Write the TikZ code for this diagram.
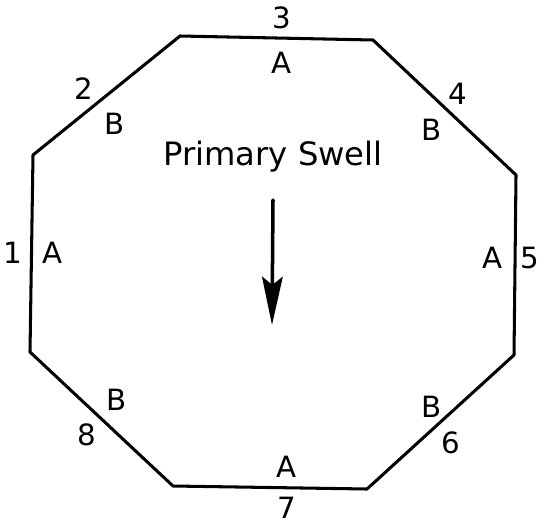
\documentclass[tikz,border=0pt]{standalone}
\usepackage{fontspec}
\setmainfont{DejaVu Sans}
\usetikzlibrary{arrows.meta}
\begin{document}
\begin{tikzpicture}[x=0.03cm,y=-0.03cm,line join = round, line cap = round,>={Stealth[length=1.45cm,width=0.62cm,inset=0.25cm]},
	lbl/.style={font=\fontsize{25}{25}\selectfont,inner sep=0pt}]
			\useasboundingbox (0,0) rectangle (543,527);
			% corners of the octagon
			\coordinate (v1) at (180,36);
			\coordinate (v2) at (373,40);
			\coordinate (v3) at (516,175);
			\coordinate (v4) at (514,355);
			\coordinate (v5) at (367,489);
			\coordinate (v6) at (173,486);
			\coordinate (v7) at (30,352);
			\coordinate (v8) at (33,155);
			\draw[line width=2.6pt] (v1)--(v2)--(v3)--(v4)--(v5)--(v6)--(v7)--(v8)--cycle;
			% side numbers
			\node[lbl] (n3) at (282,18) {3};
			\node[lbl] (n2) at (84,89) {2};
			\node[lbl] (n4) at (458,94) {4};
			\node[lbl] (n1) at (13,253) {1};
			\node[lbl] (n5) at (530,258) {5};
			\node[lbl] (n8) at (87,435) {8};
			\node[lbl] (n6) at (451,443) {6};
			\node[lbl] (n7) at (287,508) {7};
			% side letters
			\node[lbl] (s3) at (282,63) {A};
			\node[lbl] (s2) at (115,124) {B};
			\node[lbl] (s4) at (432,130) {B};
			\node[lbl] (s1) at (53,253) {A};
			\node[lbl] (s5) at (493,258) {A};
			\node[lbl] (s8) at (117,400) {B};
			\node[lbl] (s6) at (432,407) {B};
			\node[lbl] (s7) at (287,467) {A};
			\node[lbl,font=\fontsize{27.5}{27.5}\selectfont] (swell) at (273,157) {Primary Swell};
			\coordinate (a0) at (273,200);
			\coordinate (a1) at (272,325);
			\draw[->,line width=3pt] (a0)--(a1);
	\end{tikzpicture}
\end{document}
